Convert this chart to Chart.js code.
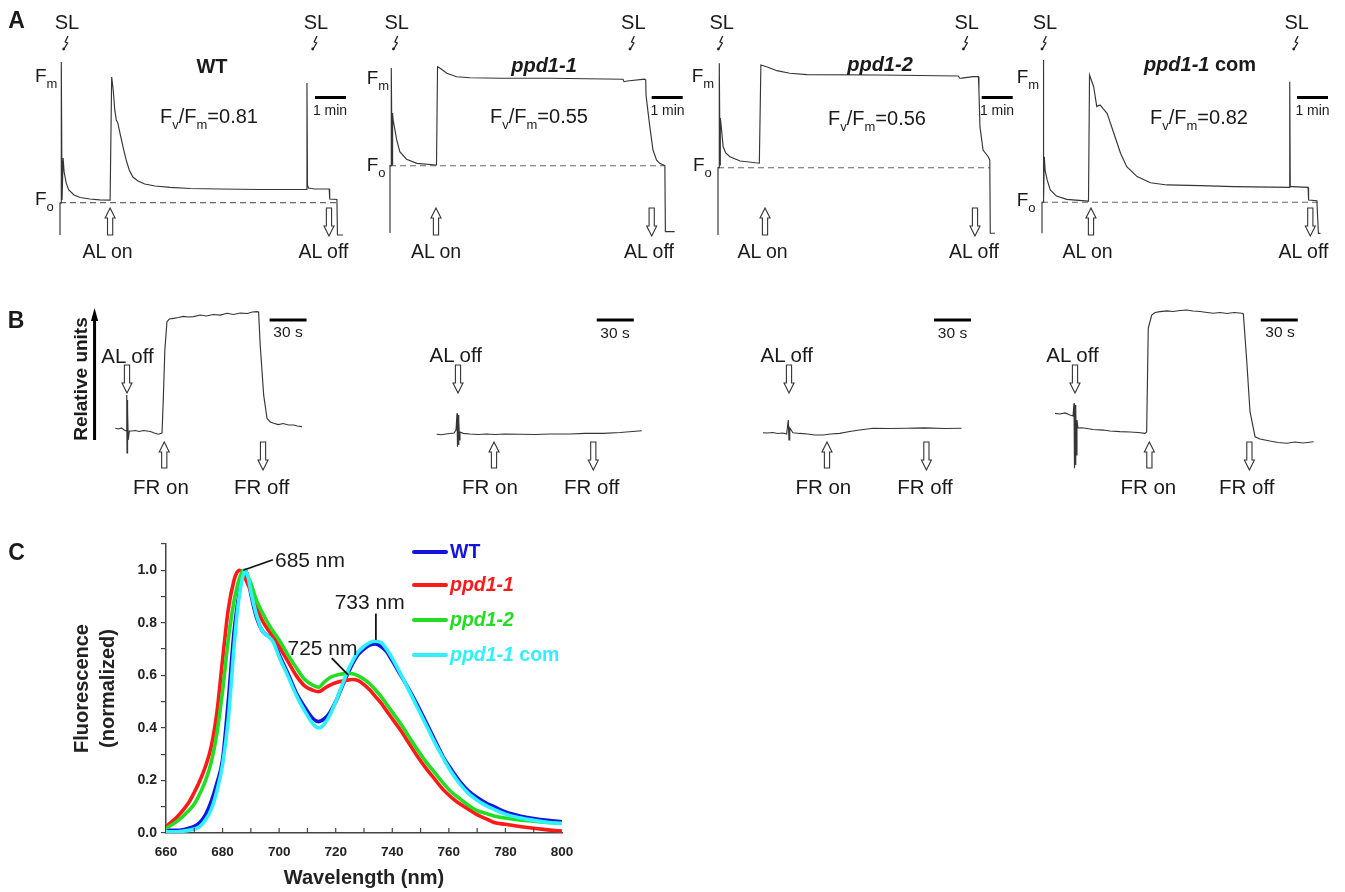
<!DOCTYPE html>
<html><head><meta charset="utf-8">
<script src="https://cdn.jsdelivr.net/npm/chart.js@4.4.1/dist/chart.umd.min.js"></script>
<style>
html,body{margin:0;padding:0;background:#fff;}
#fig{position:relative;width:1345px;height:892px;overflow:hidden;background:#fff;font-family:"Liberation Sans",Arial,Helvetica,sans-serif;color:#1a1a1a;}
#fig canvas{position:absolute;}
.t{position:absolute;white-space:nowrap;line-height:1;}
.sub{font-size:13px;position:relative;top:6px;}
</style></head><body><div id="fig"></div>
<script>
// ---------------- DATA ----------------
// Panel A: chlorophyll fluorescence induction (time in s, fluorescence relative to Fm)
const tA_WT  = [0,0,2,2.5,4,6,8,12,17,27,39,58,77,97,98,100,103,106,109,112,116,122,128,134,141,151,164,184,213,252,310,387,476,477,478,479,481,493,521,522,536,537,548];
const vA_WT  = [0,0.185,0.185,1.0,0.202,0.445,0.364,0.30,0.26,0.231,0.217,0.208,0.203,0.202,0.202,0.913,0.838,0.723,0.665,0.647,0.59,0.509,0.434,0.376,0.335,0.312,0.295,0.283,0.275,0.269,0.266,0.263,0.263,0.263,0.879,0.289,0.272,0.266,0.266,0.208,0.205,0,0];
const tA_P1  = [0,0,2,2.5,4,5,6,13,19,32,52,89,90,92,97,110,129,155,213,310,451,453,459,493,495,495.5,499,503,509,516,522,532,533,551];
const vA_P1  = [0,0.408,0.408,1.0,0.412,0.727,0.685,0.564,0.493,0.447,0.422,0.412,0.412,1.008,0.998,0.968,0.947,0.941,0.938,0.938,0.932,0.917,0.921,0.932,0.927,0.836,0.745,0.642,0.503,0.442,0.422,0.408,0.008,0.008];
const tA_P2  = [0,0,2,2.5,4,4.5,6,10,15,23,43,80,81,83,94,114,139,172,313,465,468,472,494,504,505,507,513,523,526,527,536];
const vA_P2  = [0,0.392,0.392,1.0,0.408,0.681,0.641,0.514,0.478,0.456,0.431,0.418,0.418,0.99,0.98,0.957,0.942,0.934,0.932,0.926,0.913,0.914,0.922,0.922,0.845,0.631,0.495,0.456,0.437,0.01,0.01];
const tA_COM = [0,0,2,2.5,3.5,4.5,6,10,16,28,48,89,90,92,100,106,110,113,119,126,139,152,164,184,210,242,306,371,479,479.5,480.5,484,515,516,532,535,539];
const vA_COM = [0,0.179,0.179,1.0,0.192,0.442,0.365,0.308,0.25,0.215,0.196,0.186,0.186,0.913,0.846,0.731,0.738,0.74,0.717,0.692,0.577,0.462,0.384,0.327,0.292,0.279,0.275,0.269,0.265,0.875,0.269,0.269,0.265,0.192,0.188,0,0];
const foLevelA = [0.187, 0.408, 0.392, 0.179];
const foEndA   = [542, 532, 526, 535];
const alOnA    = [97, 89, 91, 94.8];
const alOffA   = [520.6, 506.5, 497.4, 519.3];
const minBarA  = [493.5, 506.5, 510.4, 493.5];
const fvfmA    = ['0.81', '0.55', '0.56', '0.82'];

// Panel B: P700 redox kinetics (time in s after AL off, relative units)
const tB_WT  = [-9.5,-7,-4.6,-2.2,-0.6,-0.2,0,0.2,0.5,0.7,1,1.9,4,6.7,10,13.2,16.2,18.9,22.1,25.6,28.4,29.4,30.7,32.4,34.3,37.8,41.6,45.7,49.7,54,59.4,64.3,70,75.7,81.1,86.2,91.9,97.6,101.6,105.4,106.7,108,110.8,113.5,116.2,118.9,122.7,126.7,130.8,135.1,138.1,141.9];
const vB_WT  = [0.10,0.094,0.103,0.085,0.077,0.385,-0.111,0.342,-0.085,0.256,0,0.077,0.077,0.081,0.073,0.081,0.077,0.073,0.060,0.049,0.06,0.342,0.769,1.011,1.034,1.04,1.047,1.056,1.051,1.054,1.068,1.06,1.073,1.068,1.083,1.073,1.085,1.081,1.094,1.097,1.094,0.812,0.385,0.185,0.154,0.143,0.132,0.141,0.128,0.128,0.12,0.114];
const tB_P1  = [-17.3,-13.8,-9.7,-6.5,-3.2,-1.6,-0.8,-0.4,0,0.4,0.8,1.2,1.6,4.3,9.7,16.2,23.3,30,38.1,50.3,62.5,74.6,90.8,103,117.9,131.4,149];
const vB_P1  = [0.049,0.045,0.051,0.056,0.06,0.085,0.228,-0.057,0.214,-0.043,0.171,0,0.068,0.057,0.051,0.047,0.051,0.047,0.051,0.049,0.047,0.051,0.051,0.056,0.057,0.064,0.079];
const tB_P2  = [-21.1,-17.3,-13.2,-9.2,-5.1,-1.9,-0.6,0,0.6,3.2,8.7,15.2,20.8,27.6,33.8,41.1,49.2,57.3,68.1,81.7,95.2,110,126.3,139.9];
const vB_P2  = [0.062,0.06,0.064,0.056,0.06,0.051,0.171,0,0.103,0.062,0.056,0.051,0.043,0.043,0.051,0.057,0.073,0.085,0.1,0.098,0.1,0.103,0.098,0.1];
const tB_COM = [-16.2,-12.2,-8.1,-4.1,-1.6,-0.8,-0.4,0,0.4,0.8,1.2,1.6,2.4,5.4,9.7,14.6,22.9,28.4,36.5,44.6,51.1,56.8,58.1,59.4,62.2,64.9,68.9,74.6,79.5,85.2,90.6,95.7,101.4,107.1,112.2,117.6,123.3,129,135.2,136.5,139.3,141.9,146,150,158.1,164.6,171.7,178.4,184.9,193.5];
const vB_COM = [0.228,0.222,0.231,0.214,0.205,0.314,-0.242,0.299,-0.214,0.256,-0.128,0.171,0.103,0.105,0.098,0.09,0.085,0.077,0.071,0.068,0.064,0.057,0.068,0.955,1.068,1.09,1.097,1.103,1.098,1.107,1.111,1.103,1.098,1.09,1.083,1.09,1.081,1.09,1.083,1.077,0.669,0.242,0.028,0.009,-0.009,-0.021,-0.028,-0.017,-0.026,-0.015];
const alOffB  = [0, 0, 0, 0];
const frOnB   = [30.2, 29.2, 30.8, 60.3];
const frOffB  = [110.3, 109.7, 111.4, 141.4];
const secBarB = [115.6, 112.5, 117.6, 150.6];

// Panel C: 77 K fluorescence emission spectra
const wl = [660,664,668,670,672,674,676,678,680,682,684,685,686,687,688,689,690,692,694,696,698,700,703,706,709,712,714,716,718,720,722,724,726,728,730,732,734,736,738,740,743,746,749,752,755,758,761,764,767,770,773,776,780,785,790,795,800];
const specWT  = [0.01,0.01,0.018,0.025,0.04,0.07,0.12,0.19,0.28,0.50,0.76,0.85,0.92,0.98,1.0,0.97,0.91,0.82,0.77,0.75,0.735,0.68,0.61,0.535,0.48,0.435,0.424,0.435,0.46,0.50,0.55,0.60,0.645,0.68,0.70,0.715,0.72,0.71,0.69,0.655,0.60,0.545,0.485,0.42,0.355,0.29,0.24,0.195,0.16,0.135,0.115,0.10,0.08,0.065,0.055,0.048,0.043];
const specP1  = [0.025,0.062,0.115,0.155,0.20,0.255,0.33,0.46,0.66,0.85,0.96,0.99,1.0,0.99,0.97,0.945,0.92,0.86,0.81,0.775,0.745,0.71,0.655,0.60,0.56,0.543,0.538,0.55,0.563,0.572,0.578,0.582,0.584,0.58,0.565,0.545,0.52,0.495,0.465,0.435,0.39,0.34,0.29,0.245,0.205,0.165,0.135,0.11,0.09,0.07,0.055,0.04,0.033,0.025,0.018,0.012,0.007];
const specP2  = [0.018,0.045,0.085,0.11,0.15,0.20,0.27,0.38,0.54,0.735,0.88,0.93,0.97,0.995,1.0,0.975,0.95,0.885,0.84,0.80,0.765,0.735,0.68,0.63,0.585,0.562,0.555,0.575,0.592,0.60,0.605,0.608,0.606,0.598,0.585,0.568,0.545,0.52,0.49,0.46,0.415,0.365,0.315,0.27,0.23,0.19,0.155,0.13,0.105,0.085,0.075,0.065,0.057,0.05,0.045,0.04,0.037];
const specCOM = [0.005,0.005,0.01,0.015,0.025,0.05,0.09,0.16,0.26,0.43,0.70,0.82,0.91,0.97,1.0,0.975,0.92,0.83,0.77,0.75,0.725,0.67,0.60,0.525,0.465,0.415,0.40,0.415,0.45,0.50,0.555,0.61,0.655,0.69,0.71,0.725,0.73,0.725,0.70,0.665,0.605,0.54,0.475,0.41,0.345,0.285,0.23,0.185,0.15,0.125,0.105,0.09,0.072,0.058,0.048,0.04,0.036];
const seriesNames = ['WT', 'ppd1-1', 'ppd1-2', 'ppd1-1 com'];
const xTicksC = [660, 680, 700, 720, 740, 760, 780, 800];
const yTicksC = [0.0, 0.2, 0.4, 0.6, 0.8, 1.0];

// ---------------- LAYOUT / HELPERS ----------------
const fig = document.getElementById('fig');
Chart.defaults.font.family = '"Liberation Sans", Arial, Helvetica, sans-serif';
const INK = '#353535';

function makeCanvas(left, top, w, h) {
  const c = document.createElement('canvas');
  c.width = w; c.height = h;
  c.style.left = left + 'px'; c.style.top = top + 'px';
  c.style.width = w + 'px'; c.style.height = h + 'px';
  fig.appendChild(c);
  return c;
}
function pts(xs, ys) { return xs.map((x, i) => ({x: x, y: ys[i]})); }
function label(html, x, y, o) {
  o = o || {};
  const d = document.createElement('div');
  d.className = 't'; d.innerHTML = html;
  d.style.left = x + 'px'; d.style.top = y + 'px';
  d.style.fontSize = (o.size || 20) + 'px';
  if (o.bold) d.style.fontWeight = 'bold';
  if (o.italic) d.style.fontStyle = 'italic';
  if (o.color) d.style.color = o.color;
  const ax = o.anchor === 'l' ? '0' : (o.anchor === 'r' ? '-100%' : '-50%');
  d.style.transform = 'translate(' + ax + ',-50%)' + (o.rot ? ' rotate(' + o.rot + 'deg)' : '');
  fig.appendChild(d);
}
function hollowArrow(ctx, x, yTop, yBot, dir) {
  const sw = 2.6, hw = 5, hl = 10;
  ctx.beginPath();
  if (dir === 'up') {
    ctx.moveTo(x, yTop); ctx.lineTo(x + hw, yTop + hl); ctx.lineTo(x + sw, yTop + hl);
    ctx.lineTo(x + sw, yBot); ctx.lineTo(x - sw, yBot); ctx.lineTo(x - sw, yTop + hl);
    ctx.lineTo(x - hw, yTop + hl);
  } else {
    ctx.moveTo(x, yBot); ctx.lineTo(x + hw, yBot - hl); ctx.lineTo(x + sw, yBot - hl);
    ctx.lineTo(x + sw, yTop); ctx.lineTo(x - sw, yTop); ctx.lineTo(x - sw, yBot - hl);
    ctx.lineTo(x - hw, yBot - hl);
  }
  ctx.closePath();
  ctx.fillStyle = '#fff'; ctx.fill();
  ctx.lineWidth = 1.1; ctx.strokeStyle = '#333'; ctx.stroke();
}
function bolt(ctx, x, y) {
  ctx.strokeStyle = '#222'; ctx.lineWidth = 1.3;
  ctx.beginPath();
  ctx.moveTo(x + 2, y); ctx.lineTo(x - 0.8, y + 6); ctx.lineTo(x + 1.6, y + 7); ctx.lineTo(x - 2, y + 13);
  ctx.stroke();
  ctx.fillStyle = '#222'; ctx.beginPath(); ctx.arc(x - 2.3, y + 13, 1.4, 0, Math.PI * 2); ctx.fill();
}
function decor(p) {
  return {
    id: 'decor',
    afterDatasetsDraw(chart) {
      const ctx = chart.ctx, xs = chart.scales.x, ys = chart.scales.y;
      const Y = v => v - p.top;
      ctx.save();
      (p.arrows || []).forEach(a => hollowArrow(ctx, xs.getPixelForValue(a.t), Y(a.y1), Y(a.y2), a.dir));
      if (p.bar) {
        ctx.strokeStyle = '#000'; ctx.lineWidth = 3; ctx.beginPath();
        ctx.moveTo(xs.getPixelForValue(p.bar.t), Y(p.bar.y));
        ctx.lineTo(xs.getPixelForValue(p.bar.t + p.bar.d), Y(p.bar.y));
        ctx.stroke();
      }
      (p.bolts || []).forEach(b => bolt(ctx, b - p.left, Y(36)));
      if (p.extra) p.extra(ctx, xs, ys);
      ctx.restore();
    }
  };
}
function traceChart(p) {
  const cv = makeCanvas(p.left, p.top, p.w, p.h);
  const datasets = [{data: pts(p.t, p.v), borderColor: INK, borderWidth: 1.15}];
  if (p.fo !== undefined) {
    datasets.push({data: [{x: 0, y: p.fo}, {x: p.foEnd, y: p.fo}], borderColor: '#666', borderWidth: 1.1, borderDash: [6, 4]});
  }
  new Chart(cv, {
    type: 'line',
    data: {datasets},
    options: {
      responsive: false, animation: false, devicePixelRatio: 1, events: [],
      layout: {padding: 0},
      plugins: {legend: {display: false}, tooltip: {enabled: false}},
      elements: {point: {radius: 0}, line: {tension: 0}},
      scales: {
        x: {type: 'linear', display: false, min: (p.left - p.x0) * p.sPerPx, max: (p.left + p.w - p.x0) * p.sPerPx},
        y: {type: 'linear', display: false, min: (p.y0 - (p.top + p.h)) / p.span, max: (p.y0 - p.top) / p.span}
      }
    },
    plugins: [decor(p)]
  });
}

// ---------------- PANEL A ----------------
const A_SPP = 60 / 31;
const aGeom = [
  {x0: 60,     y0: 235,   span: 173,   sl: [67, 316]},
  {x0: 390,    y0: 233,   span: 165,   sl: [396.7, 633.3]},
  {x0: 718,    y0: 235,   span: 171.7, sl: [721.7, 966.7]},
  {x0: 1041.7, y0: 233.3, span: 173.3, sl: [1045, 1296.7]}
];
const aT = [tA_WT, tA_P1, tA_P2, tA_COM];
const aV = [vA_WT, vA_P1, vA_P2, vA_COM];
aGeom.forEach((g, i) => {
  traceChart({
    x0: g.x0, y0: g.y0, span: g.span, sPerPx: A_SPP,
    left: g.x0 - 45, top: 0, w: 345, h: 270,
    t: aT[i], v: aV[i], fo: foLevelA[i], foEnd: foEndA[i],
    arrows: [{t: alOnA[i], y1: 208, y2: 235, dir: 'up'}, {t: alOffA[i], y1: 208, y2: 236, dir: 'down'}],
    bar: {t: minBarA[i], d: 60, y: 97.5},
    bolts: [g.sl[0] - 1, g.sl[1] - 1]
  });
});

// ---------------- PANEL B ----------------
const B_SPP = 30 / 37;
const bGeom = [{x0: 126.7}, {x0: 458}, {x0: 789.3}, {x0: 1075}];
const bT = [tB_WT, tB_P1, tB_P2, tB_COM];
const bV = [vB_WT, vB_P1, vB_P2, vB_COM];
bGeom.forEach((g, i) => {
  const p = {
    x0: g.x0, y0: 440, span: 117, sPerPx: B_SPP,
    left: g.x0 - 90, top: 295, w: 330, h: 215,
    t: bT[i], v: bV[i],
    arrows: [{t: alOffB[i], y1: 365, y2: 393, dir: 'down'}, {t: frOnB[i], y1: 442, y2: 468, dir: 'up'}, {t: frOffB[i], y1: 442, y2: 470, dir: 'down'}],
    bar: {t: secBarB[i], d: 30, y: 320}
  };
  if (i === 0) {
    p.extra = (ctx, xs, ys) => {
      const x = xs.getPixelForValue(-26.3);
      const yb = ys.getPixelForValue(0), yt = ys.getPixelForValue(1.128);
      ctx.fillStyle = '#000';
      ctx.fillRect(x - 1.5, yt + 9, 3, yb - yt - 9);
      ctx.beginPath(); ctx.moveTo(x, yt); ctx.lineTo(x + 3.6, yt + 13); ctx.lineTo(x - 3.6, yt + 13); ctx.closePath(); ctx.fill();
    };
  }
  traceChart(p);
});

// ---------------- PANEL C ----------------
const colC = ['#1414e0', '#ff1a1a', '#22dd22', '#2ff0ff'];
const leadersC = [[687.3, 1.0, 697.8, 1.04], [734.2, 0.835, 734.2, 0.735], [718.6, 0.666, 724.4, 0.602]];
const cDecor = {
  id: 'cdecor',
  afterDraw(chart) {
    const ctx = chart.ctx, x = chart.scales.x, y = chart.scales.y, ca = chart.chartArea;
    ctx.save();
    ctx.strokeStyle = '#444'; ctx.lineWidth = 1.2;
    for (let w = 670; w < 800; w += 10) {
      const px = x.getPixelForValue(w);
      ctx.beginPath(); ctx.moveTo(px, ca.bottom); ctx.lineTo(px, ca.bottom - 5); ctx.stroke();
    }
    ctx.strokeStyle = '#111'; ctx.lineWidth = 1.8;
    leadersC.forEach(l => {
      ctx.beginPath();
      ctx.moveTo(x.getPixelForValue(l[0]), y.getPixelForValue(l[1]));
      ctx.lineTo(x.getPixelForValue(l[2]), y.getPixelForValue(l[3]));
      ctx.stroke();
    });
    ctx.restore();
  }
};
const cCanvas = makeCanvas(0, 510, 620, 382);
const specs = [specWT, specP1, specP2, specCOM];
const drawOrder = [3, 2, 1, 0];
new Chart(cCanvas, {
  type: 'line',
  data: {datasets: specs.map((s, i) => ({label: seriesNames[i], data: pts(wl, s), borderColor: colC[i], order: drawOrder[i]}))},
  options: {
    responsive: false, animation: false, devicePixelRatio: 1, events: [],
    layout: {padding: {left: 69, top: 34, right: 58, bottom: 2}},
    plugins: {legend: {display: false}, tooltip: {enabled: false}},
    elements: {point: {radius: 0}, line: {borderWidth: 3.6, cubicInterpolationMode: 'monotone', borderJoinStyle: 'round', borderCapStyle: 'round'}},
    scales: {
      x: {
        type: 'linear', min: 660, max: 800,
        afterFit: s => { s.height = 57; },
        grid: {drawOnChartArea: false, drawTicks: false},
        border: {color: '#444', width: 1.5},
        ticks: {stepSize: 10, autoSkip: false, maxRotation: 0, padding: 11, color: '#222', font: {size: 13.5, weight: 'bold'},
          callback: v => xTicksC.includes(Math.round(v)) ? String(Math.round(v)) : ''},
        title: {display: true, text: 'Wavelength (nm)', color: '#222', font: {size: 20, weight: 'bold'}, padding: 0}
      },
      y: {
        type: 'linear', min: 0, max: 1.1,
        afterFit: s => { s.width = 97; },
        grid: {drawOnChartArea: false, drawTicks: true, tickLength: 5, color: '#444', lineWidth: 1.2},
        border: {color: '#444', width: 1.5},
        ticks: {stepSize: 0.1, autoSkip: false, padding: 4, color: '#222', font: {size: 14, weight: 'bold'},
          callback: v => { const k = Math.round(v * 10); return yTicksC.some(t => Math.round(t * 10) === k) ? (k / 10).toFixed(1) : ''; }},
        title: {display: true, text: ['Fluorescence', '(normalized)'], color: '#222', font: {size: 20, weight: 'bold', lineHeight: '26px'}, padding: 0}
      }
    }
  },
  plugins: [cDecor]
});

// ---------------- TEXT ----------------
const F = (s) => 'F<span class="sub">' + s + '</span>';
label('A', 16.5, 20, {size: 23, bold: true, anchor: 'c'});
label('B', 16, 320, {size: 23, bold: true});
label('C', 16.5, 552, {size: 23, bold: true});

const titlesA = ['<b>WT</b>', '<b><i>ppd1-1</i></b>', '<b><i>ppd1-2</i></b>', '<b><i>ppd1-1</i> com</b>'];
const titlePos = [[212, 66], [544, 65], [880, 64], [1200, 64]];
const fmPos = [[35, 75], [366.7, 76.5], [691.7, 75], [1016.7, 76]];
const foPos = [[35, 198], [366.7, 163.5], [693, 164], [1016.7, 199]];
const fvPos = [[160, 116], [490, 116], [828, 118], [1150, 117]];
const minPos = [330, 667.5, 997, 1312.5];
const alOnPos = [107.5, 436, 762.5, 1087.5];
const alOffPos = [323.5, 649, 974, 1303.5];
for (let i = 0; i < 4; i++) {
  label('SL', aGeom[i].sl[0], 22, {size: 20});
  label('SL', aGeom[i].sl[1], 22, {size: 20});
  label(titlesA[i], titlePos[i][0], titlePos[i][1], {size: 20});
  label(F('m'), fmPos[i][0], fmPos[i][1], {size: 19, anchor: 'l'});
  label(F('o'), foPos[i][0], foPos[i][1], {size: 19, anchor: 'l'});
  label(F('v') + '/' + F('m') + '=' + fvfmA[i], fvPos[i][0], fvPos[i][1], {size: 20, anchor: 'l'});
  label('1 min', minPos[i], 110, {size: 14});
  label('AL on', alOnPos[i], 252, {size: 19.5});
  label('AL off', alOffPos[i], 252, {size: 19.5});
}
label('Relative units', 80, 379, {size: 19, bold: true, rot: -90});
const bAlOff = [[127.5, 356], [455.8, 355], [786.7, 355], [1072.5, 355]];
const bSec = [[288, 332], [615, 333], [952.5, 333], [1280, 332]];
const bFrOn = [161, 490, 823.3, 1148.3];
const bFrOff = [261.7, 591.7, 925, 1246.7];
for (let i = 0; i < 4; i++) {
  label('AL off', bAlOff[i][0], bAlOff[i][1], {size: 20.5});
  label('30 s', bSec[i][0], bSec[i][1], {size: 15.5});
  label('FR on', bFrOn[i], 487, {size: 20.5});
  label('FR off', bFrOff[i], 487, {size: 20.5});
}
label('685 nm', 275, 559, {size: 21, anchor: 'l'});
label('733 nm', 369.7, 601, {size: 21});
label('725 nm', 322.5, 646.5, {size: 21});
// legend
const legY = [551.7, 585, 620, 655];
const legHtml = ['WT', '<i>ppd1-1</i>', '<i>ppd1-2</i>', '<i>ppd1-1</i> com'];
for (let i = 0; i < 4; i++) {
  const sw = document.createElement('div');
  sw.style.cssText = 'position:absolute;left:412px;width:36px;height:4px;border-radius:2px;top:' + (legY[i] - 2) + 'px;background:' + colC[i];
  fig.appendChild(sw);
  label(legHtml[i], 450, legY[i], {size: 19.5, bold: true, anchor: 'l', color: colC[i]});
}
</script></body></html>
